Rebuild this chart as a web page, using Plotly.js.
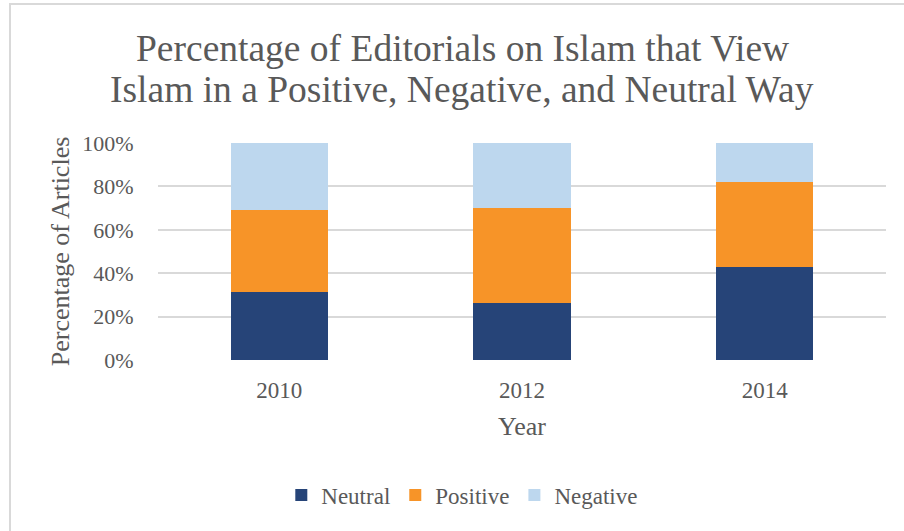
<!DOCTYPE html>
<html><head><meta charset="utf-8">
<script src="https://cdn.plot.ly/plotly-3.0.1.min.js"></script>
<style>
html,body{margin:0;padding:0;background:#fff}
#wrap{position:relative;width:904px;height:531px;overflow:hidden}
#chart{position:absolute;left:0;top:0;width:904px;height:531px}
#frame{position:absolute;left:9px;top:3px;width:1000px;height:1000px;border-left:2px solid #d9d9d9;border-top:2px solid #d9d9d9;pointer-events:none}
</style>
</head><body><div id="wrap"><div id="chart"></div><div id="frame"></div></div>
<script>
const years = ['2010', '2012', '2014'];
const neutral = [31.4, 26.4, 42.8];
const positive = [37.9, 43.5, 39.3];
const negative = [30.7, 30.1, 17.9];
const yTicks = [0, 20, 40, 60, 80, 100];
const yTickText = ['0%', '20%', '40%', '60%', '80%', '100%'];
const titleLines = ['Percentage of Editorials on Islam that View', 'Islam in a Positive, Negative, and Neutral Way'];

const font = 'Liberation Serif, Times New Roman, serif';
const grey = '#595959';
const traces = [
  {name: 'Neutral', x: years, y: neutral, type: 'bar', marker: {color: '#264478'}},
  {name: 'Positive', x: years, y: positive, type: 'bar', marker: {color: '#F79428'}},
  {name: 'Negative', x: years, y: negative, type: 'bar', marker: {color: '#BDD7EE'}}
];
const layout = {
  width: 904, height: 531,
  barmode: 'stack', bargap: 0.6,
  margin: {l: 158, r: 18, t: 143, b: 171},
  paper_bgcolor: '#fff', plot_bgcolor: '#fff',
  font: {family: font, color: grey, size: 22},
  annotations: [
    {text: titleLines[0], xref: 'paper', yref: 'paper', x: 0.4176, y: 1.435, xanchor: 'center', yanchor: 'middle',
     showarrow: false, font: {family: font, size: 37.5, color: grey}},
    {text: titleLines[1], xref: 'paper', yref: 'paper', x: 0.4176, y: 1.245, xanchor: 'center', yanchor: 'middle',
     showarrow: false, font: {family: font, size: 37.5, color: grey}}
  ],
  xaxis: {type: 'category', showgrid: false, zeroline: false, showline: false,
    ticks: 'outside', ticklen: 9, tickcolor: 'rgba(0,0,0,0)',
    tickfont: {size: 23, color: grey},
    title: {text: 'Year', font: {size: 26, color: grey}, standoff: 15}},
  yaxis: {range: [0, 100], tickvals: yTicks, ticktext: yTickText, showgrid: true,
    gridcolor: '#d9d9d9', gridwidth: 1.5, zeroline: false, showline: false,
    tickfont: {size: 22, color: grey}, ticks: 'outside', ticklen: 19, tickcolor: 'rgba(0,0,0,0)',
    title: {text: 'Percentage of Articles', font: {size: 26, color: grey}, standoff: 5}},
  legend: {orientation: 'h', x: 0.418, xanchor: 'center', y: -0.622, yanchor: 'middle',
    font: {size: 23, color: grey}, traceorder: 'normal', itemwidth: 30},
  showlegend: true
};
Plotly.newPlot('chart', traces, layout, {displayModeBar: false});
</script></body></html>
